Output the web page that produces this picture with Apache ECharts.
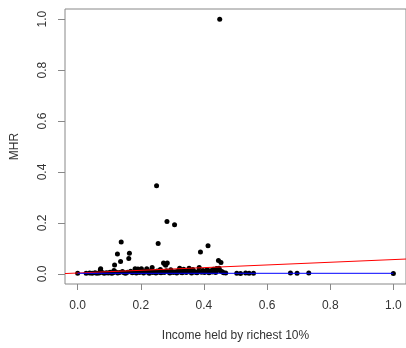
<!DOCTYPE html>
<html>
<head>
<meta charset="utf-8">
<script src="https://cdn.jsdelivr.net/npm/echarts@6/dist/echarts.min.js"></script>
<style>
  html, body { margin: 0; padding: 0; background: #fff; }
  #chart { width: 406px; height: 348px; }
</style>
</head>
<body>
<div id="chart"></div>
<script>
// income share of richest 10% (x) and MHR (y)
const incomeShare = [
  0.450, 0.250, 0.283, 0.307, 0.138, 0.255, 0.413, 0.389, 0.126, 0.164,
  0.162, 0.136, 0.117, 0.272, 0.284, 0.279, 0.276, 0.446, 0.454, 0.385,
  0.236, 0.073, 0.323, 0.353, 0.182, 0.202, 0.219, 0.191, 0.440, 0.448,
  0.115, 0.072, 0.336, 0.365, 0.410, 0.430, 0.295, 0.262,
  0.000, 0.027, 0.038, 0.046, 0.055, 0.061, 0.068, 0.078, 0.084, 0.091,
  0.097, 0.103, 0.108, 0.112, 0.121, 0.127, 0.133, 0.142, 0.147, 0.152,
  0.158, 0.168, 0.173, 0.178, 0.186, 0.189, 0.196, 0.204, 0.209, 0.213,
  0.222, 0.227, 0.231, 0.238, 0.243, 0.248, 0.252, 0.258, 0.264, 0.268,
  0.274, 0.281, 0.288, 0.292, 0.298, 0.303, 0.309, 0.314, 0.318, 0.327,
  0.331, 0.339, 0.344, 0.349, 0.357, 0.361, 0.368, 0.373, 0.378, 0.383,
  0.392, 0.397, 0.402, 0.407, 0.416, 0.421, 0.426, 0.433, 0.437, 0.443,
  0.452, 0.458, 0.462, 0.469, 0.504, 0.516, 0.532, 0.543, 0.557, 0.674,
  0.695, 0.732, 1.000
];
const mhr = [
  1.000, 0.346, 0.205, 0.193, 0.125, 0.119, 0.110, 0.086, 0.078, 0.081,
  0.060, 0.048, 0.035, 0.042, 0.042, 0.034, 0.038, 0.052, 0.044, 0.025,
  0.025, 0.020, 0.022, 0.022, 0.020, 0.020, 0.020, 0.019, 0.021, 0.022,
  0.013, 0.016, 0.018, 0.017, 0.016, 0.018, 0.016, 0.017,
  0.002, 0.002, 0.003, 0.002, 0.004, 0.002, 0.003, 0.005, 0.002, 0.004,
  0.003, 0.006, 0.002, 0.004, 0.007, 0.003, 0.005, 0.009, 0.004, 0.002,
  0.006, 0.010, 0.004, 0.007, 0.003, 0.011, 0.005, 0.008, 0.003, 0.010,
  0.006, 0.002, 0.012, 0.005, 0.008, 0.003, 0.011, 0.006, 0.004, 0.009,
  0.005, 0.012, 0.007, 0.003, 0.010, 0.005, 0.008, 0.003, 0.011, 0.006,
  0.004, 0.009, 0.005, 0.012, 0.007, 0.003, 0.010, 0.006, 0.004, 0.011,
  0.006, 0.013, 0.005, 0.009, 0.004, 0.012, 0.007, 0.010, 0.005, 0.014,
  0.012, 0.008, 0.004, 0.003, 0.002, 0.001, 0.003, 0.002, 0.002, 0.003,
  0.002, 0.003, 0.001
];
// fitted lines (end points)
const redFitX = [-0.04, 1.04];
const redFitY = [0.001, 0.058];
const blueFitX = [0, 1];
const blueFitY = [0.002, 0.002];
const tickValues = [0, 0.2, 0.4, 0.6, 0.8, 1.0];

const chart = echarts.init(document.getElementById("chart"), null, { renderer: "canvas" });
const font = "'Liberation Sans', Arial, sans-serif";

chart.setOption({
  animation: false,
  backgroundColor: "#fff",
  grid: {
    left: 65,
    top: 9,
    width: 342,
    height: 275,
    show: true,
    borderColor: "#888",
    borderWidth: 1,
    backgroundColor: "transparent",
  },
  xAxis: {
    type: "value",
    min: -0.04,
    max: 1.04,
    name: "Income held by richest 10%",
    nameLocation: "middle",
    nameGap: 46,
    nameTextStyle: { color: "#333", fontSize: 12, fontFamily: font },
    axisLine: { show: false, onZero: false },
    axisTick: { show: true, length: 6, customValues: tickValues, lineStyle: { color: "#888" } },
    axisLabel: {
      customValues: tickValues,
      margin: 16,
      color: "#333",
      fontSize: 12,
      fontFamily: font,
      formatter: (v) => v.toFixed(1),
    },
    splitLine: { show: false },
  },
  yAxis: {
    type: "value",
    min: -0.04,
    max: 1.04,
    name: "MHR",
    nameLocation: "middle",
    nameGap: 44,
    nameRotate: 90,
    nameTextStyle: { color: "#333", fontSize: 12, fontFamily: font },
    axisLine: { show: false, onZero: false },
    axisTick: { show: true, length: 7, customValues: tickValues, lineStyle: { color: "#888" } },
    axisLabel: {
      customValues: tickValues,
      rotate: 90,
      margin: 16,
      color: "#333",
      fontSize: 12,
      fontFamily: font,
      formatter: (v) => v.toFixed(1),
    },
    splitLine: { show: false },
  },
  series: [
    {
      type: "scatter",
      symbol: "circle",
      symbolSize: 5,
      itemStyle: { color: "#000", opacity: 1 },
      data: incomeShare.map((x, i) => [x, mhr[i]]),
      z: 2,
    },
    {
      type: "line",
      showSymbol: false,
      lineStyle: { color: "#ff0000", width: 1 },
      data: redFitX.map((x, i) => [x, redFitY[i]]),
      z: 3,
    },
    {
      type: "line",
      showSymbol: false,
      lineStyle: { color: "#0000ff", width: 1 },
      data: blueFitX.map((x, i) => [x, blueFitY[i]]),
      z: 3,
    },
  ],
});
</script>
</body>
</html>
